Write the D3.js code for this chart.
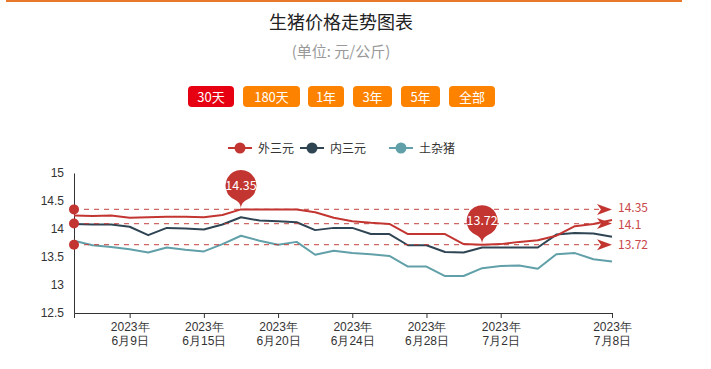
<!DOCTYPE html>
<html><head><meta charset="utf-8">
<script src="https://cdn.jsdelivr.net/npm/d3@7"></script>
<style>
html,body{margin:0;padding:0;background:#fff;}
svg{display:block;font-family:"Microsoft YaHei","Noto Sans CJK SC","Noto Sans",sans-serif;}
</style></head>
<body><svg id="c" width="711" height="369"></svg>
<script>
const titleText = "生猪价格走势图表";
const subtitleText = "(单位: 元/公斤)";
const buttons = ["30天","180天","1年","3年","5年","全部"];
const categories = ["2023-06-06","2023-06-07","2023-06-08","2023-06-09","2023-06-12","2023-06-13","2023-06-14","2023-06-15","2023-06-16","2023-06-17","2023-06-19","2023-06-20","2023-06-21","2023-06-22","2023-06-23","2023-06-24","2023-06-25","2023-06-26","2023-06-27","2023-06-28","2023-06-29","2023-06-30","2023-07-01","2023-07-02","2023-07-03","2023-07-04","2023-07-05","2023-07-06","2023-07-07","2023-07-08"];
const tickCategories = ["2023-06-09","2023-06-15","2023-06-20","2023-06-24","2023-06-28","2023-07-02","2023-07-08"];
const seriesNames = ["外三元","内三元","土杂猪"];
const waiSanYuan = [14.24,14.23,14.24,14.20,14.21,14.22,14.22,14.21,14.25,14.35,14.35,14.35,14.35,14.30,14.20,14.14,14.11,14.09,13.91,13.91,13.91,13.73,13.72,13.73,13.77,13.80,13.88,14.05,14.09,14.16];
const neiSanYuan = [14.09,14.08,14.08,14.04,13.89,14.02,14.01,13.99,14.08,14.21,14.15,14.14,14.12,13.98,14.02,14.02,13.91,13.91,13.71,13.71,13.59,13.58,13.67,13.67,13.67,13.67,13.90,13.93,13.92,13.86];
const tuZaZhu = [13.79,13.71,13.68,13.64,13.58,13.67,13.63,13.60,13.73,13.88,13.79,13.72,13.77,13.54,13.61,13.57,13.55,13.52,13.33,13.33,13.16,13.16,13.30,13.34,13.35,13.29,13.55,13.57,13.46,13.42];
const yTicks = [12.5,13,13.5,14,14.5,15];
const colors = ["#c23531","#2f4554","#61a0a8"];

const svg = d3.select("#c");
const pLeft = 74, pRight = 612, pTop = 173, pBottom = 313;
const x = d3.scalePoint().domain(categories).range([pLeft, pRight]);
const y = d3.scaleLinear().domain([12.5, 15]).range([pBottom, pTop]);

// top orange rule
svg.append("rect").attr("x", 6).attr("y", 0).attr("width", 676).attr("height", 2).attr("fill", "#e8792b");

// title
svg.append("text").attr("x", 341).attr("y", 29).attr("text-anchor", "middle")
  .attr("font-size", 18).attr("fill", "#222").text(titleText);
svg.append("text").attr("x", 341).attr("y", 57).attr("text-anchor", "middle")
  .attr("font-size", 15).attr("fill", "#999").text(subtitleText);

// buttons
const btnX = [188, 243, 308, 353, 401, 449];
const btnW = [46, 57, 36, 39, 39, 46];
buttons.forEach((b, i) => {
  svg.append("rect").attr("x", btnX[i]).attr("y", 86).attr("width", btnW[i]).attr("height", 21)
    .attr("rx", 4).attr("fill", i === 0 ? "#e60012" : "#fc8200");
  svg.append("text").attr("x", btnX[i] + btnW[i] / 2).attr("y", 101.5).attr("text-anchor", "middle")
    .attr("font-size", 13).attr("fill", "#fff").text(b);
});

// legend
const legendX = [240, 312, 401];
seriesNames.forEach((n, i) => {
  const g = svg.append("g");
  g.append("line").attr("x1", legendX[i] - 12).attr("x2", legendX[i] + 12).attr("y1", 148).attr("y2", 148)
    .attr("stroke", colors[i]).attr("stroke-width", 2);
  g.append("circle").attr("cx", legendX[i]).attr("cy", 148).attr("r", 5.5).attr("fill", colors[i]);
  g.append("text").attr("x", legendX[i] + 18).attr("y", 152.5).attr("font-size", 12).attr("fill", "#333").text(n);
});

// axes
const yAxis = d3.axisLeft(y).tickValues(yTicks).tickSize(0).tickPadding(10).tickFormat(d3.format("~g"));
const gy = svg.append("g").attr("transform", `translate(${pLeft},0)`).call(yAxis);
gy.select(".domain").attr("stroke", "#333");
gy.selectAll("text").attr("font-size", 12).attr("fill", "#333").attr("font-family", null);

const xAxis = d3.axisBottom(x).tickValues(tickCategories).tickSize(5).tickFormat(() => "");
const gx = svg.append("g").attr("transform", `translate(0,${pBottom})`).call(xAxis);
gx.select(".domain").attr("stroke", "#333");
gx.selectAll(".tick line").attr("stroke", "#333");
gx.selectAll(".tick").each(function(d) {
  const p = d.split("-");
  const t = d3.select(this).append("text").attr("text-anchor", "middle").attr("fill", "#333")
    .attr("font-size", 12).attr("font-family", null);
  t.append("tspan").attr("x", 0).attr("y", 18).text(p[0] + "年");
  t.append("tspan").attr("x", 0).attr("y", 32).text((+p[1]) + "月" + (+p[2]) + "日");
});

// lines
const allSeries = [waiSanYuan, neiSanYuan, tuZaZhu];
const line = d3.line().x((d, i) => x(categories[i])).y(d => y(d));
[2, 1, 0].forEach(k => {
  svg.append("path").datum(allSeries[k]).attr("d", line).attr("fill", "none")
    .attr("stroke", colors[k]).attr("stroke-width", 2).attr("stroke-linejoin", "round");
});

// mark lines (max, avg, min of 外三元)
const main = waiSanYuan;
const mMax = d3.max(main), mMin = d3.min(main), mAvg = d3.mean(main);
const fmt = v => String(+v.toFixed(2));
const mlColor = "#c23531";
const labelNudge = [-1.5, 1.5, 0];
[mMax, mAvg, mMin].forEach((v, k) => {
  const yy = y(v);
  svg.append("line").attr("x1", pLeft).attr("x2", pRight - 12).attr("y1", yy).attr("y2", yy)
    .attr("stroke", mlColor).attr("stroke-width", 1.2).attr("stroke-dasharray", "5,5").attr("opacity", 0.75);
  svg.append("circle").attr("cx", pLeft).attr("cy", yy).attr("r", 5).attr("fill", mlColor);
  svg.append("path").attr("d", `M${pRight},${yy} L${pRight - 15},${yy - 5.5} L${pRight - 11},${yy} L${pRight - 15},${yy + 5.5} Z`)
    .attr("fill", mlColor);
  svg.append("text").attr("x", pRight + 6).attr("y", yy + 4 + labelNudge[k]).attr("font-size", 12)
    .attr("fill", "#c9474a").text(fmt(v));
});

// mark points (pins)
function pinPath(cx, tipY, w, h) {
  const r = w / 2;
  const dy = r * r / (h - r);
  const cy = tipY - h + r + dy;
  const ang = Math.asin(dy / r);
  const dx = Math.cos(ang) * r;
  const tanX = Math.sin(ang), tanY = Math.cos(ang);
  const cp = r * 0.6, cp2 = r * 0.7;
  const p = d3.path();
  p.moveTo(cx - dx, cy + dy);
  p.arc(cx, cy, r, Math.PI - ang, Math.PI * 2 + ang);
  p.bezierCurveTo(cx + dx - tanX * cp, cy + dy + tanY * cp, cx, tipY - cp2, cx, tipY);
  p.bezierCurveTo(cx, tipY - cp2, cx - dx + tanX * cp, cy + dy + tanY * cp, cx - dx, cy + dy);
  p.closePath();
  return {d: p.toString(), cy: cy};
}
[main.indexOf(mMax), main.indexOf(mMin)].forEach(i => {
  const px = x(categories[i]), py = y(main[i]);
  const pp = pinPath(px, py, 31, 47);
  svg.append("path").attr("d", pp.d).attr("fill", "#c23531");
  svg.append("text").attr("x", px).attr("y", pp.cy + 4.5).attr("text-anchor", "middle")
    .attr("font-size", 12.5).attr("fill", "#fff").text(fmt(main[i]));
});
</script></body></html>
